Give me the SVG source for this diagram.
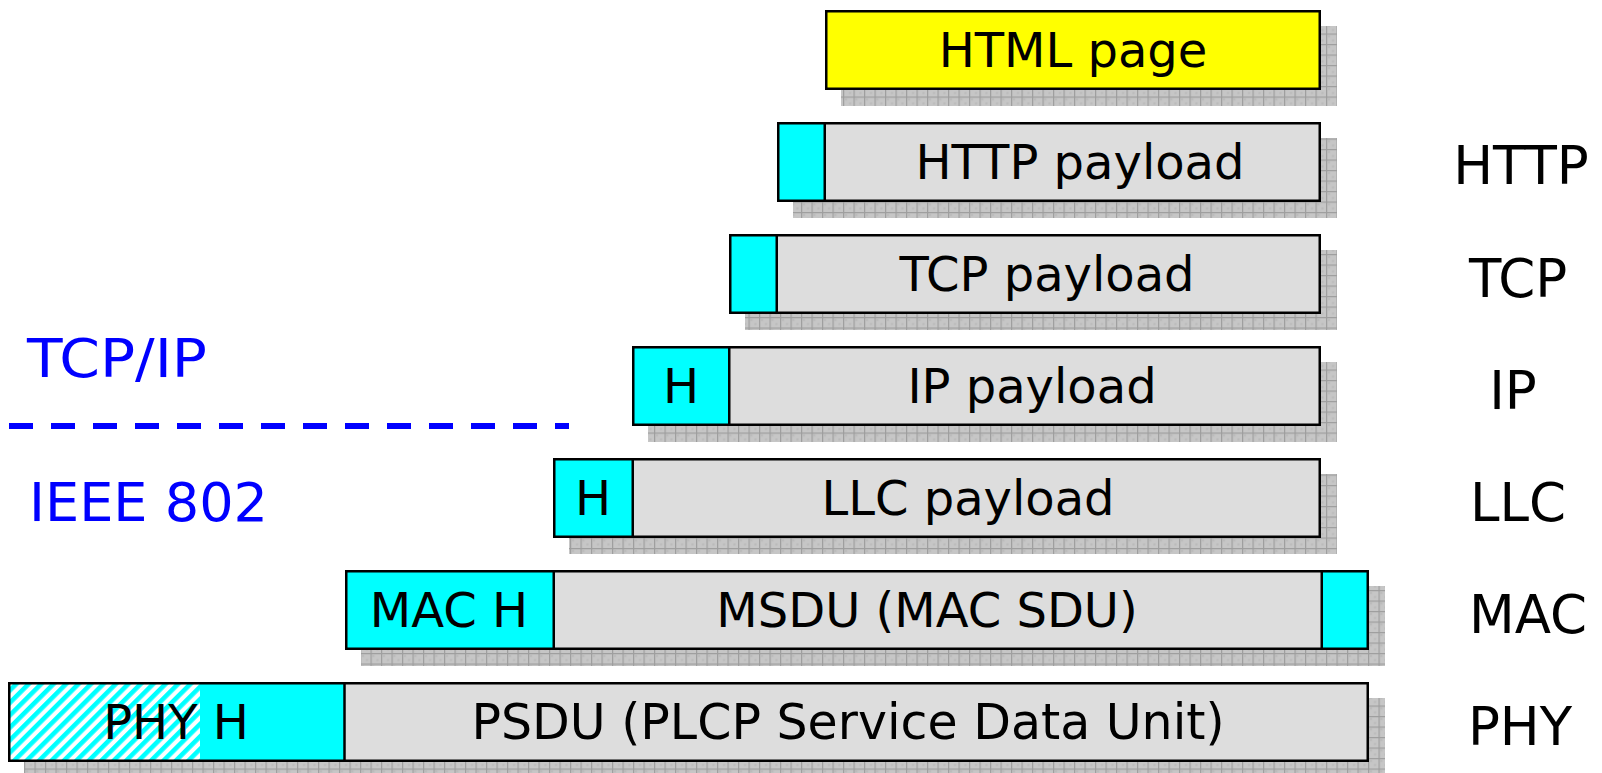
<svg xmlns="http://www.w3.org/2000/svg" width="1602" height="773" viewBox="0 0 1602 773">
  <defs>
    <!-- textured drop shadow -->
    <pattern id="shadowTex" patternUnits="userSpaceOnUse" width="10.5" height="10.5" x="3" y="2">
      <rect width="10.5" height="10.5" fill="#c6c6c6"/>
      <rect x="2" y="2" width="2" height="2" fill="#bababa"/>
      <rect x="6" y="6" width="2" height="2" fill="#bababa"/>
      <rect x="0" y="0" width="1.2" height="10.5" fill="#9e9e9e"/>
      <rect x="0" y="0" width="10.5" height="1.2" fill="#9e9e9e"/>
    </pattern>
    <!-- diagonal cyan/white hatching for the PHY preamble -->
    <pattern id="hatch" patternUnits="userSpaceOnUse" width="8.8" height="8.8" patternTransform="rotate(45)">
      <rect width="8.8" height="8.8" fill="#ffffff"/>
      <rect width="4.6" height="8.8" fill="#00ffff"/>
    </pattern>
  </defs>
  <style>
    .shadow { fill: url(#shadowTex); }
    .body { fill: #dddddd; stroke: #000; stroke-width: 2.5; }
    .page { fill: #ffff00; stroke: #000; stroke-width: 2.5; }
    .hdr { fill: #00ffff; stroke: #000; stroke-width: 2.5; }
    .t { font-family: "DejaVu Sans", Verdana, sans-serif; font-size: 48px; fill: #000; text-anchor: middle; }
    .layer { font-family: "DejaVu Sans", Verdana, sans-serif; font-size: 53px; fill: #000; text-anchor: middle; }
    .stack { font-family: "DejaVu Sans", Verdana, sans-serif; font-size: 54px; fill: #0000ff; }
  </style>

  <rect width="1602" height="773" fill="#ffffff"/>

  <!-- HTML page -->
  <g id="html">
    <rect class="shadow" x="841" y="26" width="496" height="80"/>
    <rect class="page" x="826.25" y="11.25" width="493.5" height="77.5"/>
    <text class="t" x="1073" y="67">HTML page</text>
  </g>

  <!-- HTTP -->
  <g id="http">
    <rect class="shadow" x="793" y="138" width="544" height="80"/>
    <rect class="body" x="778.25" y="123.25" width="541.5" height="77.5"/>
    <rect class="hdr" x="778.25" y="123.25" width="46.5" height="77.5"/>
    <text class="t" x="1080" y="179">HTTP payload</text>
    <text class="layer" x="1521" y="184">HTTP</text>
  </g>

  <!-- TCP -->
  <g id="tcp">
    <rect class="shadow" x="745" y="250" width="592" height="80"/>
    <rect class="body" x="730.25" y="235.25" width="589.5" height="77.5"/>
    <rect class="hdr" x="730.25" y="235.25" width="46.5" height="77.5"/>
    <text class="t" x="1047" y="291">TCP payload</text>
    <text class="layer" x="1518" y="297">TCP</text>
  </g>

  <!-- IP -->
  <g id="ip">
    <rect class="shadow" x="648" y="362" width="689" height="80"/>
    <rect class="body" x="633.25" y="347.25" width="686.5" height="77.5"/>
    <rect class="hdr" x="633.25" y="347.25" width="96" height="77.5"/>
    <text class="t" x="681" y="403">H</text>
    <text class="t" x="1032" y="403">IP payload</text>
    <text class="layer" x="1513" y="409">IP</text>
  </g>

  <!-- LLC -->
  <g id="llc">
    <rect class="shadow" x="569" y="474" width="768" height="80"/>
    <rect class="body" x="554.25" y="459.25" width="765.5" height="77.5"/>
    <rect class="hdr" x="554.25" y="459.25" width="78.5" height="77.5"/>
    <text class="t" x="593" y="515">H</text>
    <text class="t" x="968" y="515">LLC payload</text>
    <text class="layer" x="1518" y="521">LLC</text>
  </g>

  <!-- MAC -->
  <g id="mac">
    <rect class="shadow" x="361" y="586" width="1024" height="80"/>
    <rect class="body" x="346.25" y="571.25" width="1021.5" height="77.5"/>
    <rect class="hdr" x="346.25" y="571.25" width="207.5" height="77.5"/>
    <rect class="hdr" x="1321.75" y="571.25" width="46" height="77.5"/>
    <text class="t" x="449" y="627">MAC H</text>
    <text class="t" x="927" y="627">MSDU (MAC SDU)</text>
    <text class="layer" x="1528" y="633">MAC</text>
  </g>

  <!-- PHY -->
  <g id="phy">
    <rect class="shadow" x="24" y="698" width="1361" height="80"/>
    <rect class="body" x="9.25" y="683.25" width="1358.5" height="77.5"/>
    <rect x="9.25" y="683.25" width="191" height="77.5" fill="url(#hatch)"/>
    <rect x="200" y="683.25" width="144.5" height="77.5" fill="#00ffff"/>
    <rect x="9.25" y="683.25" width="335.25" height="77.5" fill="none" stroke="#000" stroke-width="2.5"/>
    <text class="t" x="176" y="739">PHY H</text>
    <text class="t" x="848" y="739" style="font-size:49px">PSDU (PLCP Service Data Unit)</text>
    <text class="layer" x="1520" y="745">PHY</text>
  </g>

  <!-- protocol family boundary -->
  <g id="boundary">
    <line x1="9" y1="426" x2="569" y2="426" stroke="#0000ff" stroke-width="6" stroke-dasharray="24 18"/>
    <text class="stack" x="27" y="377" textLength="180" lengthAdjust="spacingAndGlyphs">TCP/IP</text>
    <text class="stack" x="29" y="521" textLength="239" lengthAdjust="spacingAndGlyphs">IEEE 802</text>
  </g>
</svg>
